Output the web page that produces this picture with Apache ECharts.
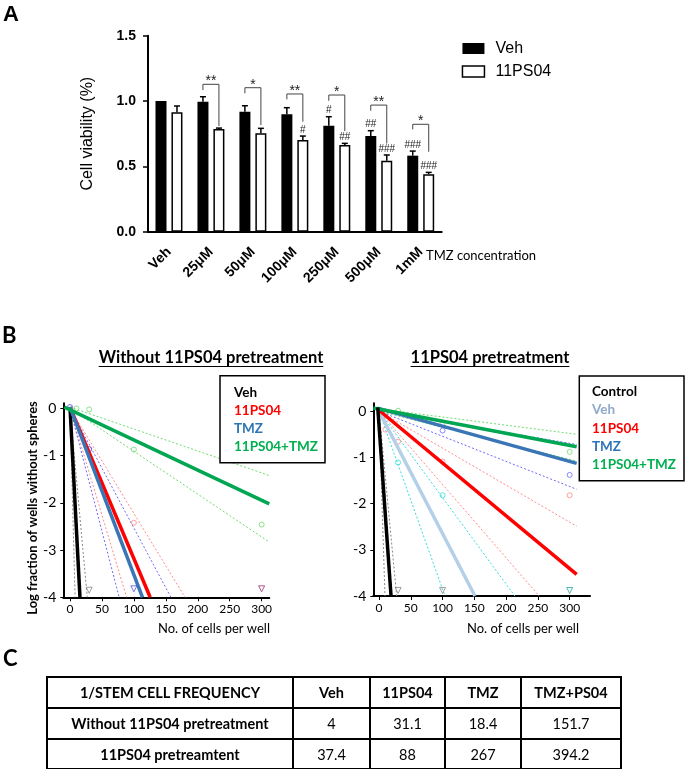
<!DOCTYPE html>
<html>
<head>
<meta charset="utf-8">
<script src="https://cdn.jsdelivr.net/npm/echarts@6/dist/echarts.min.js"></script>
<style>
  html, body { margin: 0; padding: 0; background: #fff; }
  #wrap { position: relative; width: 685px; height: 769px; overflow: hidden; }
  #chart { position: absolute; left: 0; top: 0; width: 685px; height: 769px; }
  .ttl { position: absolute; font-family: Lato, sans-serif; font-weight: bold; font-size: 16.5px;
         text-decoration: underline; text-underline-offset: 3px; white-space: nowrap;
         transform: translate(-50%, -50%); color: #000; }
  #tbl { position: absolute; left: 46px; top: 676px; border-collapse: collapse;
         font-family: Lato, sans-serif; font-size: 14.5px; color: #000; }
  #tbl td { border: 2px solid #000; text-align: center; padding: 0; }
  #tbl td.b { font-weight: bold; }
</style>
</head>
<body>
<div id="wrap">
  <div id="chart"></div>
  <div class="ttl" id="t1" style="left:211px; top:357px;"></div>
  <div class="ttl" id="t2" style="left:490px; top:357px;"></div>
  <table id="tbl"></table>
</div>
<script>
// ---------------- Panel A data ----------------
const categories = ["Veh", "25μM", "50μM", "100μM", "250μM", "500μM", "1mM"];
const vehMean = [1.00, 0.995, 0.918, 0.898, 0.811, 0.732, 0.582];
const vehUpper = [1.00, 1.033, 0.964, 0.949, 0.880, 0.773, 0.617];
const psMean = [0.914, 0.786, 0.753, 0.702, 0.663, 0.543, 0.439];
const psUpper = [0.962, 0.793, 0.791, 0.732, 0.676, 0.587, 0.454];
const bracketTop = [null, 1.128, 1.102, 1.054, 1.046, 0.969, 0.822];
const bracketLeftEnd = [null, 1.084, 1.059, 1.013, 1.002, 0.926, 0.783];
const bracketRightEnd = [null, 0.809, 0.816, 0.842, 0.770, 0.675, 0.612];
const starLabels = ["", "**", "*", "**", "*", "**", "*"];
const hashVeh = ["", "", "", "", "#", "##", "###"];
const hashPs = ["", "", "", "#", "##", "###", "###"];

// ---------------- Panel B data ----------------
const xTicksB = [0, 50, 100, 150, 200, 250, 300];
const yTicksB = [0, -1, -2, -3, -4];
// left plot: without 11PS04 pretreatment (fit lines as end points)
const leftFitVeh = [[0, 0.03], [15.6, -4]];
const leftFitPS = [[0, 0.03], [125.5, -4]];
const leftFitTMZ = [[0, 0.03], [113.5, -4]];
const leftFitCombo = [[-9, 0.03], [312, -2.02]];
const leftCiVeh = [[[0, 0], [8, -4]], [[0, 0], [27, -4]]];
const leftCiPS = [[[0, 0], [88.6, -4]], [[0, 0], [180, -4]]];
const leftCiTMZ = [[[0, 0], [77, -4]], [[0, 0], [158, -4]]];
const leftCiCombo = [[[0, 0.03], [312, -1.42]], [[0, 0], [312, -2.83]]];
const leftPtsCombo = [[10, 0.0], [30, -0.02], [100, -0.87], [300, -2.46]];
const leftPtsPS = [[100, -2.42]];
const leftPtsTMZ = [[30, -0.86], [0, 0.03]];
const leftTriGray = [[30, -3.85]];
const leftTriBlue = [[100, -3.82]];
const leftTriPurple = [[300, -3.82]];
// right plot: 11PS04 pretreatment
const rightFitControl = [[-2, 0.08], [18.9, -4]];
const rightFitVeh = [[-3.5, 0.09], [151, -4]];
const rightFitPS = [[0, 0.02], [311, -3.53]];
const rightFitTMZ = [[-1, 0.06], [311, -1.13]];
const rightFitCombo = [[-9, 0.07], [311, -0.77]];
const rightCiControl = [[[0, 0], [9.4, -4]], [[0, 0], [27.8, -4]]];
const rightCiVeh = [[[0, 0], [103.8, -4]], [[0, 0], [213.8, -4]]];
const rightCiPS = [[[0, 0], [252, -4]], [[0, 0], [311, -2.49]]];
const rightCiTMZ = [[[0, 0], [311, -0.72]], [[0, 0], [311, -1.69]]];
const rightCiCombo = [[[0, 0.05], [311, -0.50]], [[0, 0], [311, -1.08]]];
const rightPtsCombo = [[30, 0.01], [100, -0.27], [300, -0.88]];
const rightPtsTMZ = [[100, -0.42], [300, -1.38]];
const rightPtsPS = [[10, -0.40], [30, -0.66], [100, -1.09], [300, -1.82]];
const rightPtsVeh = [[30, -1.11], [100, -1.82]];
const rightTriGray = [[30, -3.88], [100, -3.88]];
const rightTriTeal = [[300, -3.88]];

const leftLegendNames = ["Veh", "11PS04", "TMZ", "11PS04+TMZ"];
const leftLegendColors = ["#000000", "#ff0000", "#2e75b6", "#00b050"];
const rightLegendNames = ["Control", "Veh", "11PS04", "TMZ", "11PS04+TMZ"];
const rightLegendColors = ["#000000", "#8eaacb", "#ff0000", "#2e75b6", "#00b050"];
const leftTitle = "Without 11PS04 pretreatment";
const rightTitle = "11PS04 pretreatment";
const xNameB = "No. of cells per well";
const yNameB = "Log fraction of wells without spheres";

// ---------------- Panel C data ----------------
const tableHeader = ["1/STEM CELL FREQUENCY", "Veh", "11PS04", "TMZ", "TMZ+PS04"];
const tableRowLabels = ["Without 11PS04 pretreatment", "11PS04 pretreamtent"];
const tableValues = [["4", "31.1", "18.4", "151.7"], ["37.4", "88", "267", "394.2"]];

// ---------------- build HTML bits ----------------
document.getElementById('t1').textContent = leftTitle;
document.getElementById('t2').textContent = rightTitle;
(function buildTable() {
  const colW = [244, 75, 73, 74, 98];
  const rowH = [31, 31, 30];
  const tbl = document.getElementById('tbl');
  let html = '<tr style="height:' + rowH[0] + 'px">';
  tableHeader.forEach((h, j) => {
    html += '<td class="b" style="width:' + colW[j] + 'px">' + h + '</td>';
  });
  html += '</tr>';
  tableRowLabels.forEach((lab, i) => {
    html += '<tr style="height:' + rowH[i + 1] + 'px"><td class="b">' + lab + '</td>';
    tableValues[i].forEach(v => { html += '<td>' + v + '</td>'; });
    html += '</tr>';
  });
  tbl.innerHTML = html;
})();

// ---------------- chart ----------------
const FA = '"Liberation Sans", Arial, sans-serif';
const FB = 'Lato, sans-serif';
const chart = echarts.init(document.getElementById('chart'), null, { renderer: 'canvas' });

function errSeries(means, uppers, hashes, side) {
  return {
    type: 'custom', xAxisIndex: 0, yAxisIndex: 0, silent: true, z: 5,
    data: categories.map((c, i) => [c, means[i], uppers[i]]),
    encode: { x: 0, y: [1, 2] },
    renderItem: function (params, api) {
      const i = params.dataIndex;
      const p0 = api.coord([api.value(0), api.value(1)]);
      const p1 = api.coord([api.value(0), api.value(2)]);
      const x = p0[0] + side * 8;
      const ch = [];
      if (Math.abs(p1[1] - p0[1]) > 0.5) {
        ch.push({ type: 'line', shape: { x1: x, y1: p0[1], x2: x, y2: p1[1] }, style: { stroke: '#000', lineWidth: 1.5 } });
        ch.push({ type: 'line', shape: { x1: x - 3, y1: p1[1], x2: x + 3, y2: p1[1] }, style: { stroke: '#000', lineWidth: 1.5 } });
      }
      if (hashes[i]) {
        ch.push({ type: 'text', x: x, y: p1[1] - 6, style: { text: hashes[i], font: '10px ' + FA, fill: '#222', align: 'center', verticalAlign: 'middle' } });
      }
      return { type: 'group', children: ch };
    }
  };
}

const bracketData = [];
categories.forEach((c, i) => { if (bracketTop[i] != null) bracketData.push([c, bracketTop[i], bracketLeftEnd[i], bracketRightEnd[i], i]); });

function lineSeries(grid, data, color, width, dotted, z) {
  return {
    type: 'line', xAxisIndex: grid, yAxisIndex: grid, data: data, symbol: 'none', silent: true,
    lineStyle: { color: color, width: width, type: dotted ? [2, 2] : 'solid' }, z: z || 2, clip: false
  };
}
function ciSeries(grid, pair, color) {
  return pair.map(seg => lineSeries(grid, seg, color, 1, true, 1));
}
function ptSeries(grid, data, color, symbol) {
  return {
    type: 'scatter', xAxisIndex: grid, yAxisIndex: grid, data: data, silent: true, z: 3,
    symbol: symbol === 'tri' ? 'triangle' : 'circle', symbolRotate: symbol === 'tri' ? 180 : 0,
    symbolSize: symbol === 'tri' ? 6 : 5,
    itemStyle: { color: 'rgba(255,255,255,0)', borderColor: color, borderWidth: 1 }
  };
}

const bXAxis = (grid, min, max) => ({
  type: 'value', gridIndex: grid, min: min, max: max,
  axisLine: { show: true, onZero: false, lineStyle: { color: '#000', width: 2 } },
  axisTick: { show: true, length: 4, customValues: xTicksB, lineStyle: { color: '#000', width: 1 } },
  axisLabel: { customValues: xTicksB, fontFamily: FB, fontSize: 12, color: '#000', margin: 6 },
  splitLine: { show: false }
});
const bYAxis = (grid, max) => ({
  type: 'value', gridIndex: grid, min: -4, max: max,
  axisLine: { show: true, onZero: false, lineStyle: { color: '#000', width: 2 } },
  axisTick: { show: true, length: 3, customValues: yTicksB, lineStyle: { color: '#000', width: 1 } },
  axisLabel: { customValues: yTicksB, fontFamily: FB, fontSize: 14, color: '#000', margin: 7 },
  splitLine: { show: false }
});

function legendBox(x, y, w, h, names, colors, tx, ty0, step) {
  const ch = [{ type: 'rect', shape: { x: x, y: y, width: w, height: h }, style: { fill: '#fff', stroke: '#000', lineWidth: 1.5 }, z: 10 }];
  names.forEach((n, i) => {
    ch.push({ type: 'text', x: tx, y: ty0 + i * step, z: 11,
      style: { text: n, font: 'bold 13.5px ' + FB, fill: colors[i], align: 'left', verticalAlign: 'middle' } });
  });
  return ch;
}

const option = {
  animation: false,
  backgroundColor: '#fff',
  grid: [
    { left: 148, top: 35.7, width: 293.7, height: 196 },
    { left: 63.3, top: 403.3, width: 206, height: 194 },
    { left: 373.3, top: 403.3, width: 216.7, height: 192.7 }
  ],
  legend: {
    data: [
      { name: 'Veh', itemStyle: { color: '#000', borderWidth: 0 } },
      { name: '11PS04', itemStyle: { color: '#fff', borderColor: '#000', borderWidth: 1.5 } }
    ],
    orient: 'vertical', left: 461.7, top: 40.5, padding: 0, itemGap: 7,
    itemWidth: 22, itemHeight: 11, icon: 'rect',
    textStyle: { fontFamily: FA, fontSize: 16, color: '#000', padding: [0, 0, 0, 6] }
  },
  xAxis: [
    {
      type: 'category', gridIndex: 0, data: categories,
      axisLine: { lineStyle: { color: '#000', width: 2 } },
      axisTick: { show: false },
      axisLabel: { rotate: 45, fontFamily: FA, fontWeight: 'bold', fontSize: 14, color: '#000', margin: 18, interval: 0 }
    },
    bXAxis(1, -10.5, 312),
    bXAxis(2, -9, 332)
  ],
  yAxis: [
    {
      type: 'value', gridIndex: 0, min: 0, max: 1.5, interval: 0.5,
      name: 'Cell viability (%)', nameLocation: 'middle', nameGap: 52,
      nameTextStyle: { fontFamily: FA, fontSize: 16, color: '#000' },
      axisLine: { show: true, lineStyle: { color: '#000', width: 2 } },
      axisTick: { show: true, length: 5, lineStyle: { color: '#000', width: 1.5 } },
      axisLabel: { fontFamily: FA, fontWeight: 'bold', fontSize: 14, color: '#000', margin: 12,
        formatter: v => v.toFixed(1) },
      splitLine: { show: false }
    },
    bYAxis(1, 0.11),
    bYAxis(2, 0.17)
  ],
  graphic: [
    { type: 'text', x: 3, y: 4, style: { text: 'A', font: 'bold 22px ' + FA, fill: '#000' } },
    { type: 'text', x: 2, y: 325, style: { text: 'B', font: 'bold 22px ' + FB, fill: '#000' } },
    { type: 'text', x: 3, y: 648, style: { text: 'C', font: 'bold 22px ' + FB, fill: '#000' } },
    { type: 'text', x: 481, y: 256, style: { text: 'TMZ concentration', font: '13px ' + FB, fill: '#000', align: 'center', verticalAlign: 'middle' } },
    { type: 'text', x: 33, y: 508, rotation: Math.PI / 2,
      style: { text: yNameB, font: 'bold 13px ' + FB, fill: '#000', align: 'center', verticalAlign: 'middle' } },
    { type: 'text', x: 214, y: 629, style: { text: xNameB, font: '13px ' + FB, fill: '#000', align: 'center', verticalAlign: 'middle' } },
    { type: 'text', x: 523, y: 629, style: { text: xNameB, font: '13px ' + FB, fill: '#000', align: 'center', verticalAlign: 'middle' } },
    ...legendBox(220, 375.7, 105, 87, leftLegendNames, leftLegendColors, 234, 392.7, 18),
    ...legendBox(579.3, 376, 104.7, 104.7, rightLegendNames, rightLegendColors, 592, 391.7, 18.3)
  ],
  series: [
    { name: 'Veh', type: 'bar', xAxisIndex: 0, yAxisIndex: 0, data: vehMean, barWidth: 11, barGap: '45%',
      itemStyle: { color: '#000' }, silent: true },
    { name: '11PS04', type: 'bar', xAxisIndex: 0, yAxisIndex: 0, data: psMean, barWidth: 11, barGap: '45%',
      itemStyle: { color: '#fff', borderColor: '#000', borderWidth: 1.5 }, silent: true },
    errSeries(vehMean, vehUpper, hashVeh, -1),
    errSeries(psMean, psUpper, hashPs, 1),
    {
      type: 'custom', xAxisIndex: 0, yAxisIndex: 0, silent: true, z: 6,
      data: bracketData, encode: { x: 0, y: [1, 2, 3] },
      renderItem: function (params, api) {
        const idx = api.value(4);
        const pt = api.coord([api.value(0), api.value(1)]);
        const pl = api.coord([api.value(0), api.value(2)]);
        const pr = api.coord([api.value(0), api.value(3)]);
        const xl = pt[0] - 8, xr = pt[0] + 8;
        return { type: 'group', children: [
          { type: 'polyline', shape: { points: [[xl, pl[1]], [xl, pt[1]], [xr, pt[1]], [xr, pr[1]]] },
            style: { stroke: '#444', lineWidth: 1, fill: null } },
          { type: 'text', x: pt[0], y: pt[1] - 3,
            style: { text: starLabels[idx], font: '14px ' + FA, fill: '#222', align: 'center', verticalAlign: 'middle' } }
        ] };
      }
    },
    // ---- left plot
    ...ciSeries(1, leftCiVeh, '#888888'),
    ...ciSeries(1, leftCiPS, '#ff8a8a'),
    ...ciSeries(1, leftCiTMZ, '#6b6bff'),
    ...ciSeries(1, leftCiCombo, '#6fdc6f'),
    ptSeries(1, leftPtsCombo, '#6fdc6f', 'c'),
    ptSeries(1, leftPtsPS, '#ff8a8a', 'c'),
    ptSeries(1, leftPtsTMZ, '#5050e0', 'c'),
    ptSeries(1, leftTriGray, '#888888', 'tri'),
    ptSeries(1, leftTriBlue, '#5050e0', 'tri'),
    ptSeries(1, leftTriPurple, '#a03070', 'tri'),
    lineSeries(1, leftFitVeh, '#000000', 3.5, false, 4),
    lineSeries(1, leftFitPS, '#ff0000', 3.5, false, 4),
    lineSeries(1, leftFitTMZ, '#3a76b6', 3.5, false, 4),
    lineSeries(1, leftFitCombo, '#00a651', 3.5, false, 4),
    // ---- right plot
    ...ciSeries(2, rightCiControl, '#888888'),
    ...ciSeries(2, rightCiVeh, '#33dddd'),
    ...ciSeries(2, rightCiPS, '#ff8a8a'),
    ...ciSeries(2, rightCiTMZ, '#6b6bff'),
    ...ciSeries(2, rightCiCombo, '#6fdc6f'),
    ptSeries(2, rightPtsCombo, '#6fdc6f', 'c'),
    ptSeries(2, rightPtsTMZ, '#6b6bff', 'c'),
    ptSeries(2, rightPtsPS, '#ff8a8a', 'c'),
    ptSeries(2, rightPtsVeh, '#33dddd', 'c'),
    ptSeries(2, rightTriGray, '#888888', 'tri'),
    ptSeries(2, rightTriTeal, '#20a0a0', 'tri'),
    lineSeries(2, rightFitVeh, '#b4cfe8', 3.5, false, 4),
    lineSeries(2, rightFitPS, '#ff0000', 3.5, false, 4),
    lineSeries(2, rightFitTMZ, '#3a76b6', 3.5, false, 4),
    lineSeries(2, rightFitCombo, '#00a651', 3.5, false, 4),
    lineSeries(2, rightFitControl, '#000000', 3.5, false, 5)
  ]
};
chart.setOption(option);
</script>
</body>
</html>
